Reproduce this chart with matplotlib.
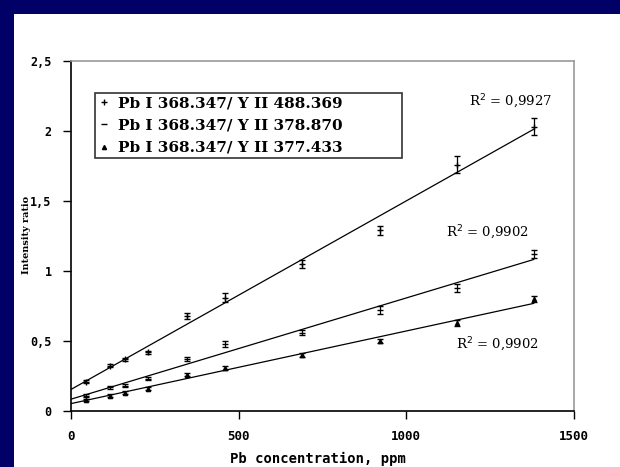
import numpy as np
import matplotlib
matplotlib.use("Agg")
import matplotlib.pyplot as plt
from matplotlib.lines import Line2D

# ---- data ----
conc = [46, 115, 161, 230, 345, 460, 690, 920, 1150, 1380]
ratio_488 = [0.21, 0.325, 0.37, 0.42, 0.68, 0.81, 1.05, 1.29, 1.76, 2.03]
err_488 = [0.01, 0.01, 0.01, 0.01, 0.02, 0.03, 0.03, 0.03, 0.06, 0.06]
ratio_378 = [0.11, 0.17, 0.18, 0.23, 0.37, 0.48, 0.56, 0.72, 0.88, 1.12]
err_378 = [0.01, 0.01, 0.01, 0.01, 0.015, 0.02, 0.02, 0.03, 0.03, 0.03]
ratio_377 = [0.08, 0.11, 0.13, 0.16, 0.26, 0.31, 0.40, 0.50, 0.63, 0.80]
err_377 = [0.005, 0.01, 0.01, 0.01, 0.01, 0.015, 0.015, 0.015, 0.02, 0.02]
labels = ["Pb I 368.347/ Y II 488.369",
          "Pb I 368.347/ Y II 378.870",
          "Pb I 368.347/ Y II 377.433"]
r2_labels = ["R$^{2}$ = 0,9927", "R$^{2}$ = 0,9902", "R$^{2}$ = 0,9902"]
x_ticks = [0, 500, 1000, 1500]
x_ticklabels = ["0", "500", "1000", "1500"]
y_ticks = [0, 0.5, 1, 1.5, 2, 2.5]
y_ticklabels = ["0", "0,5", "1", "1,5", "2", "2,5"]

fig = plt.figure(figsize=(6.2, 4.67), dpi=100)
fig.patch.set_facecolor("#000066")
# white panel
fig.add_artist(plt.Rectangle((14 / 620, 0), 1, 1 - 14 / 467, transform=fig.transFigure,
                             facecolor="white", edgecolor="none", zorder=0))

ax = fig.add_axes([71 / 620, 1 - 411 / 467, (574 - 71) / 620, (411 - 61) / 467])
ax.set_facecolor("white")
ax.set_xlim(0, 1500)
ax.set_ylim(0, 2.5)

x = np.array(conc, dtype=float)
series = [(ratio_488, err_488, "+", 5), (ratio_378, err_378, "_", 4), (ratio_377, err_377, "^", 3)]
for ys, es, mk, ms in series:
    ys = np.array(ys)
    ax.errorbar(x, ys, yerr=es, fmt=mk, color="black", ms=ms, mew=1.0,
                elinewidth=0.9, capsize=2, capthick=0.9, zorder=3)
    k, b = np.polyfit(x, ys, 1)
    xl = np.array([0, x.max()])
    ax.plot(xl, k * xl + b, color="black", lw=0.9, zorder=2)

serif = "DejaVu Serif"
ax.text(1188, 2.18, r2_labels[0], fontsize=9.5, family=serif)
ax.text(1119, 1.245, r2_labels[1], fontsize=9.5, family=serif)
ax.text(1149, 0.445, r2_labels[2], fontsize=9.5, family=serif)

mono = "DejaVu Sans Mono"
ax.set_xticks(x_ticks)
ax.set_xticklabels(x_ticklabels, family=mono, fontweight="bold", fontsize=9)
ax.set_yticks(y_ticks)
ax.set_yticklabels(y_ticklabels, family=mono, fontweight="bold", fontsize=8.5)
ax.tick_params(direction="out", length=6, width=1, pad=8, colors="black")

for s in ["left", "bottom"]:
    ax.spines[s].set_color("black")
    ax.spines[s].set_linewidth(1.2)
for s in ["top", "right"]:
    ax.spines[s].set_color("#999999")
    ax.spines[s].set_linewidth(1.2)

fig.text(318 / 620, 1 - 459 / 467, "Pb concentration, ppm", family=mono, fontweight="bold",
         fontsize=10, ha="center", va="center")
fig.text(27 / 620, 1 - 235 / 467, "Intensity ratio", family=serif, fontweight="bold",
         fontsize=7, rotation=90, ha="center", va="center")

handles = [Line2D([], [], marker="+", ls="none", color="black", ms=4),
           Line2D([], [], marker="_", ls="none", color="black", ms=4),
           Line2D([], [], marker="^", ls="none", color="black", ms=3)]
aw, ah = 574 - 71, 411 - 61
leg = ax.legend(handles, labels, loc="upper left",
                bbox_to_anchor=((95 - 71) / aw, 1 - (158 - 61) / ah,
                                (402 - 95) / aw, (158 - 93) / ah),
                mode="expand", fancybox=False, frameon=True, borderaxespad=0,
                prop={"family": serif, "weight": "bold", "size": 11},
                handlelength=0.8, handletextpad=0.5, labelspacing=0.55,
                borderpad=0.2)
leg.get_frame().set_edgecolor("black")
leg.get_frame().set_linewidth(1.2)

fig.savefig("out.png", dpi=100, facecolor=fig.get_facecolor())
